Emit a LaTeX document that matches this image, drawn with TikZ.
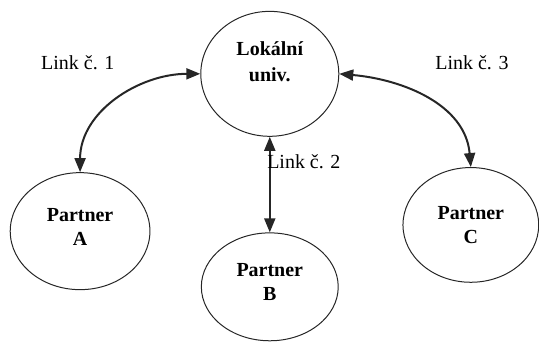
\documentclass[tikz,border=0pt]{standalone}
\usepackage{fontspec}
\setmainfont{Liberation Serif}
\usetikzlibrary{positioning, shapes.geometric, arrows.meta}

\begin{document}
\begin{tikzpicture}[
  party/.style={draw=black!85, ellipse, inner sep=0pt, align=center,
                font=\bfseries, line width=0.5pt},
  linkarrow/.style={{Triangle[length=7pt,width=5.5pt]}-{Triangle[length=7pt,width=5.5pt]},
                    line width=1pt, black!85},
  linklabel/.style={font=\normalsize},
]
\useasboundingbox (0,0) rectangle (9.49,6.09);

\node[party, minimum width=2.43cm, minimum height=2.20cm, text depth=12pt] (uni) at (4.75,4.79) {Lokální\\[1pt]univ.};
\node[party, minimum width=2.46cm, minimum height=2.06cm, text depth=4pt] (pA) at (1.41,2.02) {Partner\\A};
\node[party, minimum width=2.41cm, minimum height=1.90cm, text depth=5pt] (pB) at (4.75,1.04) {Partner\\B};
\node[party, minimum width=2.39cm, minimum height=2.02cm] (pC) at (8.29,2.13) {Partner\\C};

\draw[linkarrow] (uni.west) to[out=180, in=90] (pA.north);
\draw[linkarrow] (uni.south) -- (pB.north);
\draw[linkarrow] (uni.east) to[out=-5, in=95] (pC.north);

\node[linklabel] (l1) at (1.37,4.98) {Link č. 1};
\node[linklabel] (l2) at (5.35,3.24) {Link č. 2};
\node[linklabel] (l3) at (8.31,4.98) {Link č. 3};
\end{tikzpicture}
\end{document}
